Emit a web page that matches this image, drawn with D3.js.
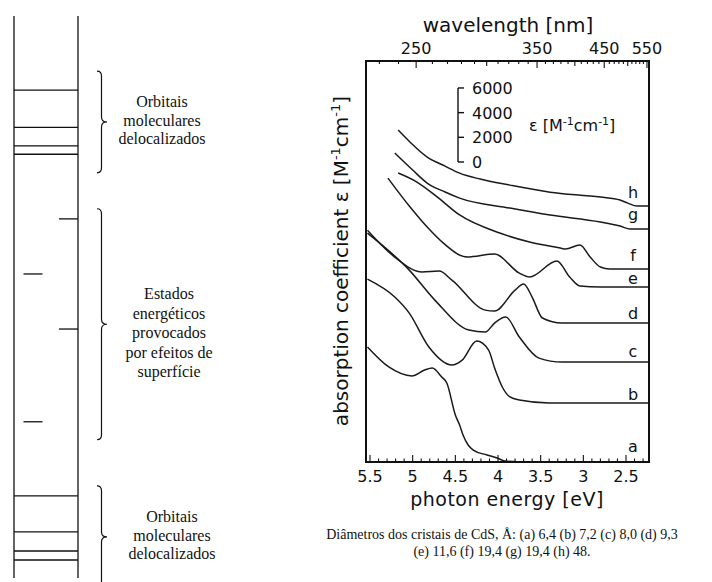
<!DOCTYPE html>
<html>
<head>
<meta charset="utf-8">
<script src="https://cdn.jsdelivr.net/npm/d3@7"></script>
<style>
  html, body { margin: 0; padding: 0; background: #fff; }
  svg { display: block; }
</style>
</head>
<body>
<svg id="fig" width="712" height="582"></svg>
<script>
// ---------- Energy-level diagram (relative energy, 0 = bottom, 100 = top) ----------
const upperOrbitals = [86.8, 80.2, 76.9, 75.4];
const lowerOrbitals = [14.6, 8.2, 4.8, 3.2];
const surfaceStatesRight = [63.9, 44.3];
const surfaceStatesLeft = [54.1, 27.8];
const braceRanges = [[90.2, 72.1], [65.7, 24.6], [16.4, -1.8]];
const braceLabels = [
  ["Orbitais", "moleculares", "delocalizados"],
  ["Estados", "energéticos", "provocados", "por efeitos de", "superfície"],
  ["Orbitais", "moleculares", "delocalizados"]
];

// ---------- CdS cluster absorption spectra ----------
const energyTicks = [5.5, 5, 4.5, 4, 3.5, 3, 2.5];
const wavelengthTicks = [250, 350, 450, 550];
const epsilonBarTicks = [0, 2000, 4000, 6000];
const curveNames = ["a", "b", "c", "d", "e", "f", "g", "h"];
// vertical displacement of each spectrum, in M^-1 cm^-1
const curveOffsets = [0, 4780, 8100, 11260, 14180, 15640, 18880, 20740];
// [photon energy eV, epsilon M^-1 cm^-1 above the curve's own baseline]
const curveA = [[5.53, 9320], [5.28, 7700], [5.01, 6970], [4.86, 7450], [4.77, 7610], [4.66, 6890], [4.60, 6400], [4.50, 3810], [4.45, 3000], [4.41, 2190], [4.35, 1380], [4.29, 970], [4.13, 570], [4.01, 320], [3.92, 80], [3.74, 0]];
const curveB = [[5.53, 10040], [5.21, 8590], [5.04, 7290], [4.81, 4540], [4.54, 3080], [4.42, 3480], [4.25, 5020], [4.11, 4290], [4.04, 2840], [3.95, 1300], [3.86, 490], [3.75, 240], [3.40, 0], [2.23, 0]];
const curveC = [[5.53, 10450], [5.04, 7450], [4.74, 5020], [4.34, 2590], [4.15, 2430], [4.04, 3160], [3.91, 3650], [3.75, 2030], [3.52, 320], [3.25, 0], [2.23, 0]];
const curveD = [[5.53, 7530], [5.21, 5350], [4.89, 4130], [4.69, 4210], [4.54, 3480], [4.15, 1050], [4.04, 970], [3.80, 2670], [3.70, 3160], [3.60, 2110], [3.48, 410], [3.25, 0], [2.23, 0]];
const curveE = [[5.29, 8830], [5.03, 6480], [4.83, 4860], [4.64, 3560], [4.36, 2430], [4.04, 2670], [3.75, 1130], [3.63, 810], [3.31, 2110], [3.16, 810], [3.04, 80], [2.80, 0], [2.23, 0]];
const curveF = [[5.17, 7780], [4.95, 7050], [4.71, 5830], [4.45, 4380], [3.98, 2920], [3.63, 2190], [3.27, 1700], [3.21, 1620], [3.04, 1940], [2.92, 970], [2.80, 160], [2.69, 0], [2.23, 0]];
const curveG = [[5.21, 6160], [5.00, 4780], [4.83, 3730], [4.62, 3000], [4.45, 2510], [3.86, 1700], [3.39, 1130], [2.80, 570], [2.57, 240], [2.45, 0], [2.23, 0]];
const curveH = [[5.17, 6160], [5.03, 5180], [4.83, 3970], [4.62, 3240], [4.45, 2670], [4.21, 2190], [3.86, 1700], [3.39, 1130], [2.80, 730], [2.57, 490], [2.48, 240], [2.37, 0], [2.23, 0]];
const curves = [curveA, curveB, curveC, curveD, curveE, curveF, curveG, curveH];

const caption = [
  "Diâmetros dos cristais de CdS, Å: (a) 6,4 (b) 7,2 (c) 8,0 (d) 9,3",
  "(e) 11,6 (f) 19,4 (g) 19,4 (h) 48."
];

const svg = d3.select("#fig");
const ink = "#111";
const serif = '"Liberation Serif", "Times New Roman", serif';
const sans = '"DejaVu Sans", sans-serif';

// ================= Left: energy-level diagram =================
const level = d3.scaleLinear().domain([0, 100]).range([578, 16]);
const ladder = { left: 14, right: 78 };
const diagram = svg.append("g").attr("stroke", ink).attr("stroke-width", 1.3).attr("fill", "none");

diagram.selectAll("line.rail")
  .data([ladder.left, ladder.right])
  .join("line")
  .attr("x1", d => d).attr("x2", d => d)
  .attr("y1", level(100)).attr("y2", level(0));

diagram.selectAll("line.orbital")
  .data(upperOrbitals.concat(lowerOrbitals))
  .join("line")
  .attr("x1", ladder.left).attr("x2", ladder.right)
  .attr("y1", d => level(d)).attr("y2", d => level(d));

diagram.selectAll("line.stateR")
  .data(surfaceStatesRight)
  .join("line")
  .attr("x1", ladder.right - 19).attr("x2", ladder.right)
  .attr("y1", d => level(d)).attr("y2", d => level(d));

diagram.selectAll("line.stateL")
  .data(surfaceStatesLeft)
  .join("line")
  .attr("x1", ladder.left + 9.5).attr("x2", ladder.left + 28.5)
  .attr("y1", d => level(d)).attr("y2", d => level(d));

// curly braces
function bracePath(yTop, yBot) {
  const xe = 97, xs = 101.5, xt = 107, r = 5;
  const ym = (yTop + yBot) / 2;
  return `M${xe},${yTop} Q${xs},${yTop} ${xs},${yTop + r} L${xs},${ym - r} ` +
         `Q${xs},${ym} ${xt},${ym} Q${xs},${ym} ${xs},${ym + r} ` +
         `L${xs},${yBot - r} Q${xs},${yBot} ${xe},${yBot}`;
}
diagram.selectAll("path.brace")
  .data(braceRanges)
  .join("path")
  .attr("stroke-width", 1.2)
  .attr("d", d => bracePath(level(d[0]), level(d[1])));

// brace captions
const captionCentres = [162, 169, 172];
const captionLead = [18.5, 19.5, 18.5];
const captionShift = [4, 14, 4];
braceLabels.forEach((lines, i) => {
  const ym = (level(braceRanges[i][0]) + level(braceRanges[i][1])) / 2;
  const n = lines.length;
  svg.append("g")
    .selectAll("text")
    .data(lines)
    .join("text")
    .attr("x", captionCentres[i])
    .attr("y", (d, k) => ym + captionShift[i] + (k - (n - 1) / 2) * captionLead[i])
    .attr("text-anchor", "middle")
    .style("font-family", serif)
    .style("font-size", "16px")
    .attr("fill", ink)
    .text(d => d);
});

// ================= Right: absorption spectra =================
const x = d3.scaleLinear().domain([5.547, 2.2305]).range([366, 649]);
const y = d3.scaleLinear().domain([0, 32500]).range([462, 61]);
const [x0, x1] = x.range();
const [yb, yt] = y.range();
const hc = 1239.84; // eV·nm

const plot = svg.append("g");

// spectra
const line = d3.line()
  .x(d => x(d[0]))
  .y(d => y(d[1]))
  .curve(d3.curveMonotoneX);

plot.selectAll("path.spectrum")
  .data(curves.map((c, i) => c.map(p => [p[0], p[1] + curveOffsets[i]])))
  .join("path")
  .attr("fill", "none")
  .attr("stroke", "#1a1a1a")
  .attr("stroke-width", 1.5)
  .attr("stroke-linejoin", "round")
  .attr("d", line);

// frame
plot.append("rect")
  .attr("x", x0).attr("y", yt)
  .attr("width", x1 - x0).attr("height", yb - yt)
  .attr("fill", "none").attr("stroke", ink).attr("stroke-width", 2);

// bottom axis: photon energy, ticks pointing inward
const eMinor = d3.range(23, 56).map(v => v / 10);
plot.selectAll("line.eTick")
  .data(eMinor)
  .join("line")
  .attr("x1", d => x(d)).attr("x2", d => x(d))
  .attr("y1", yb)
  .attr("y2", d => yb - (Math.abs(d * 2 - Math.round(d * 2)) < 1e-6 ? 7 : 3.5))
  .attr("stroke", ink).attr("stroke-width", 1.1);

plot.selectAll("text.eLabel")
  .data(energyTicks)
  .join("text")
  .attr("x", d => x(d))
  .attr("y", 482)
  .attr("text-anchor", "middle")
  .style("font-family", sans).style("font-size", "16px")
  .attr("fill", ink)
  .text(d => d3.format("")(d));

plot.append("text")
  .attr("x", (x(5.5) + x(2.5)) / 2 + 9)
  .attr("y", 506)
  .attr("text-anchor", "middle")
  .style("font-family", sans).style("font-size", "19px")
  .attr("letter-spacing", "0.5px")
  .attr("fill", ink)
  .text("photon energy [eV]");

// top axis: wavelength, ticks pointing inward
const lamMinor = d3.range(230, 551, 10);
plot.selectAll("line.lTick")
  .data(lamMinor)
  .join("line")
  .attr("x1", d => x(hc / d)).attr("x2", d => x(hc / d))
  .attr("y1", yt)
  .attr("y2", d => yt + (wavelengthTicks.includes(d) ? 7 : d % 50 === 0 ? 5 : 3))
  .attr("stroke", ink).attr("stroke-width", 1.1);

plot.selectAll("text.lLabel")
  .data(wavelengthTicks)
  .join("text")
  .attr("x", d => x(hc / d))
  .attr("y", 54)
  .attr("text-anchor", "middle")
  .style("font-family", sans).style("font-size", "16px")
  .attr("fill", ink)
  .text(d => d);

plot.append("text")
  .attr("x", 508)
  .attr("y", 32)
  .attr("text-anchor", "middle")
  .style("font-family", sans).style("font-size", "20px")
  .attr("fill", ink)
  .text("wavelength [nm]");

// y-axis title
const yTitle = plot.append("text")
  .attr("transform", "translate(348,261) rotate(-90)")
  .attr("text-anchor", "middle")
  .style("font-family", sans).style("font-size", "20px")
  .attr("fill", ink);
yTitle.append("tspan").text("absorption coefficient ε [M");
yTitle.append("tspan").attr("dy", -8).style("font-size", "13px").text("-1");
yTitle.append("tspan").attr("dy", 8).text("cm");
yTitle.append("tspan").attr("dy", -8).style("font-size", "13px").text("-1");
yTitle.append("tspan").attr("dy", 8).text("]");

// epsilon scale bar
const barX = 458, barBase = 162;
const bar = d3.scaleLinear().domain([0, 6000]).range([barBase, barBase - (y(0) - y(6000))]);
plot.append("line")
  .attr("x1", barX).attr("x2", barX)
  .attr("y1", bar(0)).attr("y2", bar(6000))
  .attr("stroke", ink).attr("stroke-width", 1.4);
plot.selectAll("line.barTick")
  .data(epsilonBarTicks)
  .join("line")
  .attr("x1", barX).attr("x2", barX + 6)
  .attr("y1", d => bar(d)).attr("y2", d => bar(d))
  .attr("stroke", ink).attr("stroke-width", 1.4);
plot.selectAll("text.barLabel")
  .data(epsilonBarTicks)
  .join("text")
  .attr("x", barX + 14)
  .attr("y", d => bar(d) + 6)
  .style("font-family", sans).style("font-size", "16px")
  .attr("fill", ink)
  .text(d => d);

const barTitle = plot.append("text")
  .attr("x", 529).attr("y", 131)
  .style("font-family", sans).style("font-size", "16px")
  .attr("fill", ink);
barTitle.append("tspan").text("ε [M");
barTitle.append("tspan").attr("dy", -6).style("font-size", "11px").text("-1");
barTitle.append("tspan").attr("dy", 6).text("cm");
barTitle.append("tspan").attr("dy", -6).style("font-size", "11px").text("-1");
barTitle.append("tspan").attr("dy", 6).text("]");

// curve letters sit just above the flat tail of each spectrum
const nameLift = [10, 3, 5, 4, 3, 8, 9, 8];
plot.selectAll("text.curveName")
  .data(curveNames)
  .join("text")
  .attr("x", 633)
  .attr("y", (d, i) => y(curveOffsets[i]) - nameLift[i])
  .attr("text-anchor", "middle")
  .style("font-family", sans).style("font-size", "16px")
  .attr("fill", ink)
  .text(d => d);

// figure caption
svg.append("g")
  .selectAll("text")
  .data(caption)
  .join("text")
  .attr("x", 502)
  .attr("y", (d, i) => 539 + i * 17)
  .attr("text-anchor", "middle")
  .style("font-family", serif).style("font-size", "14px")
  .attr("fill", ink)
  .text(d => d);
</script>
</body>
</html>
